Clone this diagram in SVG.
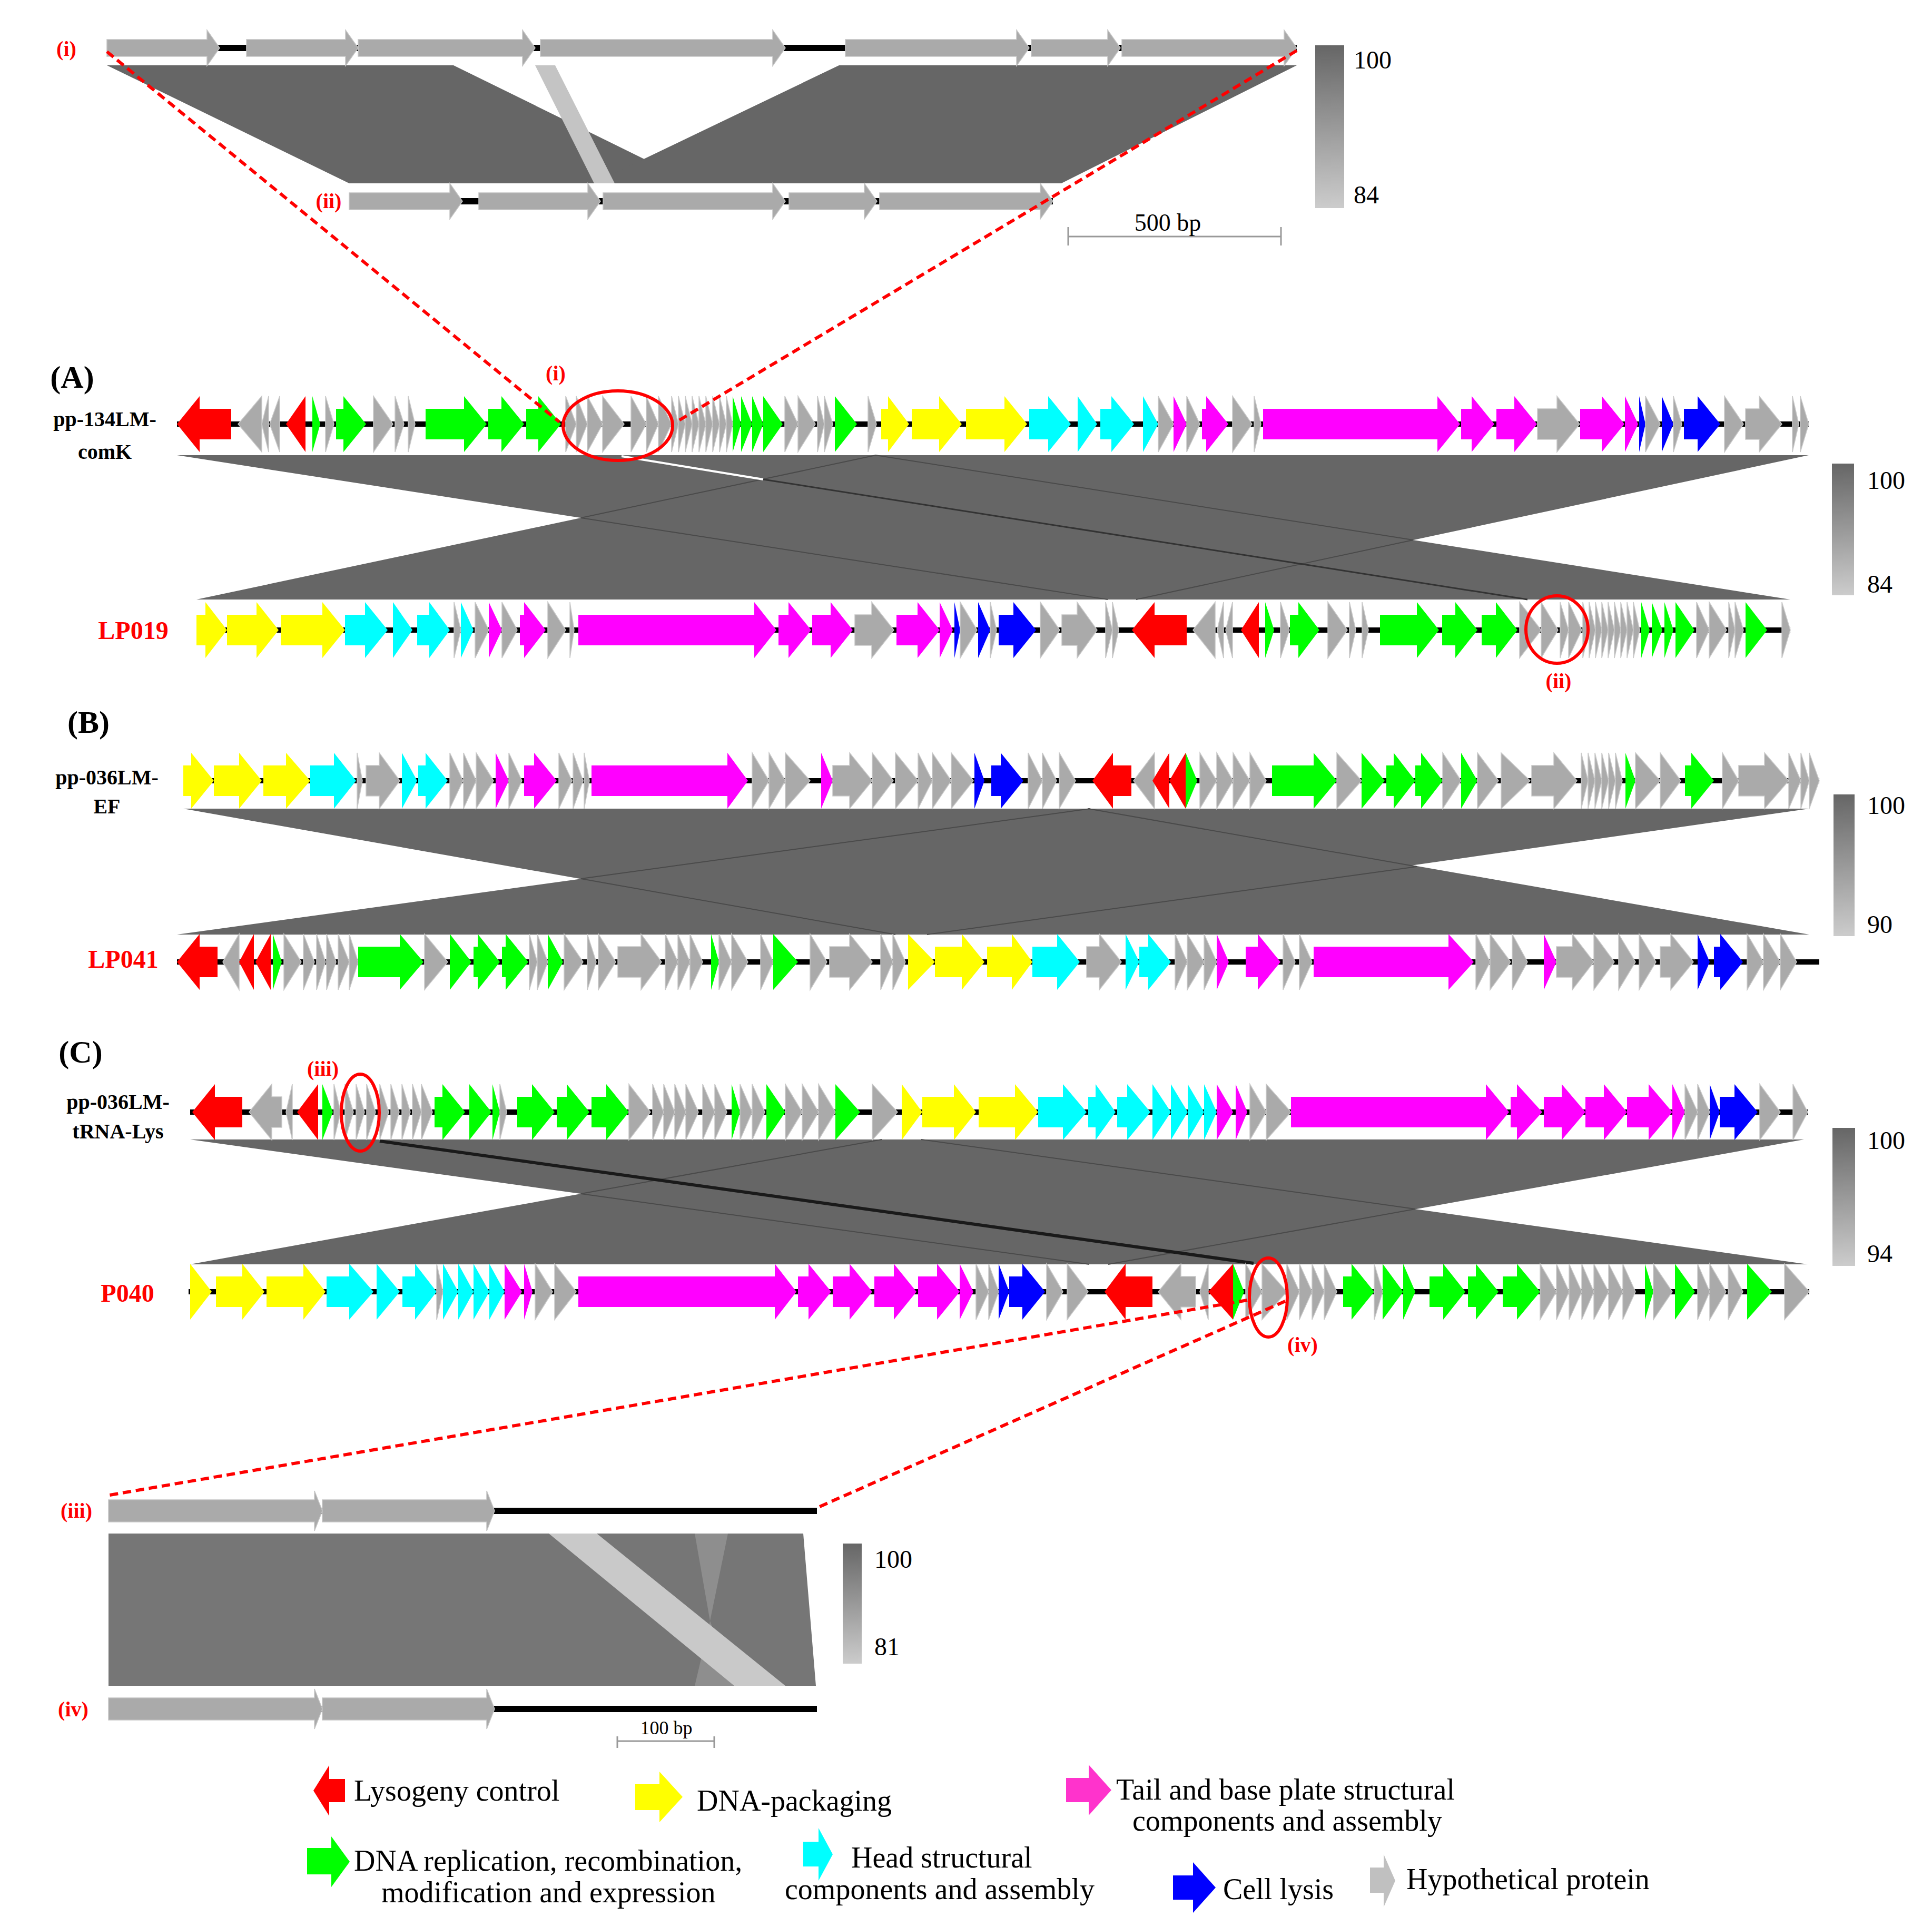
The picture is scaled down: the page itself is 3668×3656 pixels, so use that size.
<svg xmlns="http://www.w3.org/2000/svg" width="3668" height="3656" viewBox="0 0 3668 3656">
<style>
.r{fill:#ff0000}.y{fill:#ffff00}.g{fill:#00ff00}.c{fill:#00ffff}.m{fill:#ff00ff}.b{fill:#0000ff}
.h{fill:#aaaaaa;stroke:#c8c8c8;stroke-width:1.5}
.tg{fill:#aaaaaa;stroke:#c4c4c4;stroke-width:1.5}
.bb{fill:#000000}
.band{fill:#666666}
.edge{stroke:#4a4a4a;stroke-width:2;fill:none}
.dash{stroke:#ff0000;stroke-width:6;stroke-dasharray:16 9;fill:none}
.circ{stroke:#ff0000;stroke-width:6;fill:none}
text{font-family:"Liberation Serif","Times New Roman",serif}
.lab{font-size:40px;font-weight:bold;fill:#000;text-anchor:middle}
.rl{font-size:48px;font-weight:bold;fill:#ff0000;text-anchor:middle}
.rn{font-size:40px;font-weight:bold;fill:#ff0000;text-anchor:middle}
.pn{font-size:60px;font-weight:bold;fill:#000;text-anchor:middle}
.num{font-size:48px;fill:#000}
.leg{font-size:56px;fill:#000}
</style>
<defs>
<linearGradient id="sg" x1="0" y1="0" x2="0" y2="1"><stop offset="0" stop-color="#666666"/><stop offset="1" stop-color="#cccccc"/></linearGradient>
</defs>
<rect width="3668" height="3656" fill="#ffffff"/>

<!-- comparison bands (connectors) -->
<g id="connectors">
<polygon class="band" points="203,124 861,124 1317,348 663,348"/>
<polygon class="band" points="1593,124 2462,124 2015,348 1126,348"/>
<polygon fill="#c4c4c4" points="1016,124 1054,124 1167,348 1128,348"/>

<polygon class="band" points="336,864 1662,864 3399,1138 2103,1138"/>
<polygon class="band" points="1663,864 3434,864 2157,1138 373,1138"/>
<line class="edge" x1="1103" y1="983" x2="2103" y2="1138"/>
<line class="edge" x1="1663" y1="864" x2="1103" y2="983"/>
<line class="edge" x1="1662" y1="864" x2="2683" y2="1025"/>
<line class="edge" x1="2683" y1="1025" x2="2157" y2="1138"/>
<line stroke="#ffffff" stroke-width="4" x1="1180" y1="866" x2="1449" y2="910"/>
<line stroke="#333333" stroke-width="3" x1="1449" y1="910" x2="2900" y2="1138"/>

<polygon class="band" points="348,1535 2066,1535 3435,1774 1700,1774"/>
<polygon class="band" points="2070,1535 3435,1535 1760,1774 336,1774"/>
<line class="edge" x1="1103" y1="1668" x2="1700" y2="1774"/>
<line class="edge" x1="2070" y1="1535" x2="1103" y2="1668"/>
<line class="edge" x1="2066" y1="1535" x2="2690" y2="1645"/>
<line class="edge" x1="2690" y1="1645" x2="1760" y2="1774"/>

<polygon class="band" points="361,2163 1749,2163 3432,2400 2068,2400"/>
<polygon class="band" points="1674,2163 3425,2163 2104,2400 361,2400"/>
<line class="edge" x1="1103" y1="2266" x2="2068" y2="2400"/>
<line class="edge" x1="1674" y1="2163" x2="1103" y2="2266"/>
<line class="edge" x1="1749" y1="2163" x2="2687" y2="2295"/>
<line class="edge" x1="2687" y1="2295" x2="2104" y2="2400"/>
<line stroke="#1a1a1a" stroke-width="6" x1="721" y1="2166" x2="2380" y2="2398"/>

<polygon fill="#767676" points="206,2911 1525,2911 1549,3200 206,3200"/>
<polygon fill="#8e8e8e" points="1319,2911 1382,2911 1348,3077"/>
<polygon fill="#8e8e8e" points="1348,3077 1394,3200 1319,3200"/>
<polygon fill="#c9c9c9" points="1042,2911 1133,2911 1491,3200 1394,3200"/>
</g>

<!-- top zoom panel tracks -->
<g id="track-i" transform="translate(0,91)">
<rect class="bb" x="203" y="-6" width="2259" height="12"/>
<polygon class="tg" points="203,-16 393,-16 393,-34 417,0 393,34 393,16 203,16"/>
<polygon class="tg" points="468,-16 656,-16 656,-34 680,0 656,34 656,16 468,16"/>
<polygon class="tg" points="680,-16 992,-16 992,-34 1016,0 992,34 992,16 680,16"/>
<polygon class="tg" points="1026,-16 1467,-16 1467,-34 1491,0 1467,34 1467,16 1026,16"/>
<polygon class="tg" points="1605,-16 1930,-16 1930,-34 1954,0 1930,34 1930,16 1605,16"/>
<polygon class="tg" points="1958,-16 2103,-16 2103,-34 2127,0 2103,34 2103,16 1958,16"/>
<polygon class="tg" points="2130,-16 2438,-16 2438,-34 2462,0 2438,34 2438,16 2130,16"/>
</g>
<g id="track-ii" transform="translate(0,382)">
<rect class="bb" x="663" y="-6" width="1336" height="12"/>
<polygon class="tg" points="663,-16 854,-16 854,-34 878,0 854,34 854,16 663,16"/>
<polygon class="tg" points="909,-16 1116,-16 1116,-34 1140,0 1116,34 1116,16 909,16"/>
<polygon class="tg" points="1145,-16 1467,-16 1467,-34 1491,0 1467,34 1467,16 1145,16"/>
<polygon class="tg" points="1498,-16 1641,-16 1641,-34 1665,0 1641,34 1641,16 1498,16"/>
<polygon class="tg" points="1670,-16 1975,-16 1975,-34 1999,0 1975,34 1975,16 1670,16"/>
</g>

<!-- Panel A top: pp-134LM-comK -->
<g id="track-pp134" transform="translate(0,805)">
<rect class="bb" x="336" y="-5" width="3098" height="10"/>
<polygon class="r" points="439,-29 379,-29 379,-53 336,0 379,53 379,29 439,29"/>
<polygon class="h" points="497,-53 452,0 497,53"/>
<polygon class="h" points="510,-53 497,0 510,53"/>
<polygon class="h" points="531,-53 512,0 531,53"/>
<polygon class="r" points="580,-53 543,0 580,53"/>
<polygon class="g" points="593,-53 608,0 593,53"/>
<polygon class="h" points="618,-53 634,0 618,53"/>
<polygon class="g" points="638,-29 652,-29 652,-53 695,0 652,53 652,29 638,29"/>
<polygon class="h" points="709,-53 746,0 709,53"/>
<polygon class="h" points="750,-53 767,0 750,53"/>
<polygon class="h" points="775,-53 788,0 775,53"/>
<polygon class="g" points="808,-29 881,-29 881,-53 924,0 881,53 881,29 808,29"/>
<polygon class="g" points="927,-29 952,-29 952,-53 995,0 952,53 952,29 927,29"/>
<polygon class="g" points="999,-29 1022,-29 1022,-53 1065,0 1022,53 1022,29 999,29"/>
<polygon class="h" points="1074,-53 1094,0 1074,53"/>
<polygon class="h" points="1094,-53 1115,0 1094,53"/>
<polygon class="h" points="1115,-53 1144,0 1115,53"/>
<polygon class="h" points="1144,-53 1185,0 1144,53"/>
<polygon class="h" points="1198,-53 1227,0 1198,53"/>
<polygon class="h" points="1227,-53 1250,0 1227,53"/>
<polygon class="h" points="1250,-53 1275,0 1250,53"/>
<polygon class="h" points="1275,-53 1288,0 1275,53"/>
<polygon class="h" points="1288,-53 1301,0 1288,53"/>
<polygon class="h" points="1301,-53 1314,0 1301,53"/>
<polygon class="h" points="1314,-53 1327,0 1314,53"/>
<polygon class="h" points="1327,-53 1340,0 1327,53"/>
<polygon class="h" points="1340,-53 1353,0 1340,53"/>
<polygon class="h" points="1353,-53 1366,0 1353,53"/>
<polygon class="h" points="1366,-53 1379,0 1366,53"/>
<polygon class="h" points="1379,-53 1391,0 1379,53"/>
<polygon class="g" points="1391,-53 1407,0 1391,53"/>
<polygon class="g" points="1407,-53 1428,0 1407,53"/>
<polygon class="g" points="1428,-53 1449,0 1428,53"/>
<polygon class="g" points="1449,-53 1486,0 1449,53"/>
<polygon class="h" points="1490,-53 1515,0 1490,53"/>
<polygon class="h" points="1515,-53 1548,0 1515,53"/>
<polygon class="h" points="1552,-53 1565,0 1552,53"/>
<polygon class="h" points="1565,-53 1581,0 1565,53"/>
<polygon class="g" points="1585,-53 1627,0 1585,53"/>
<polygon class="h" points="1648,-53 1664,0 1648,53"/>
<polygon class="y" points="1673,-29 1686,-29 1686,-53 1726,0 1686,53 1686,29 1673,29"/>
<polygon class="y" points="1731,-29 1783,-29 1783,-53 1826,0 1783,53 1783,29 1731,29"/>
<polygon class="y" points="1834,-29 1907,-29 1907,-53 1950,0 1907,53 1907,29 1834,29"/>
<polygon class="c" points="1954,-29 1990,-29 1990,-53 2033,0 1990,53 1990,29 1954,29"/>
<polygon class="c" points="2046,-53 2083,0 2046,53"/>
<polygon class="c" points="2089,-29 2110,-29 2110,-53 2153,0 2110,53 2110,29 2089,29"/>
<polygon class="c" points="2170,-53 2199,0 2170,53"/>
<polygon class="h" points="2199,-53 2228,0 2199,53"/>
<polygon class="m" points="2228,-53 2253,0 2228,53"/>
<polygon class="h" points="2253,-53 2278,0 2253,53"/>
<polygon class="m" points="2282,-29 2290,-29 2290,-53 2332,0 2290,53 2290,29 2282,29"/>
<polygon class="h" points="2340,-53 2377,0 2340,53"/>
<polygon class="h" points="2381,-53 2394,0 2381,53"/>
<polygon class="m" points="2398,-29 2729,-29 2729,-53 2772,0 2729,53 2729,29 2398,29"/>
<polygon class="m" points="2774,-29 2794,-29 2794,-53 2837,0 2794,53 2794,29 2774,29"/>
<polygon class="m" points="2841,-29 2875,-29 2875,-53 2918,0 2875,53 2875,29 2841,29"/>
<polygon class="h" points="2919,-29 2956,-29 2956,-53 2999,0 2956,53 2956,29 2919,29"/>
<polygon class="m" points="3000,-29 3041,-29 3041,-53 3084,0 3041,53 3041,29 3000,29"/>
<polygon class="m" points="3085,-53 3110,0 3085,53"/>
<polygon class="b" points="3112,-53 3124,0 3112,53"/>
<polygon class="h" points="3124,-53 3152,0 3124,53"/>
<polygon class="b" points="3155,-53 3177,0 3155,53"/>
<polygon class="h" points="3177,-53 3193,0 3177,53"/>
<polygon class="b" points="3197,-29 3223,-29 3223,-53 3266,0 3223,53 3223,29 3197,29"/>
<polygon class="h" points="3274,-53 3310,0 3274,53"/>
<polygon class="h" points="3314,-29 3340,-29 3340,-53 3383,0 3340,53 3340,29 3314,29"/>
<polygon class="h" points="3403,-53 3415,0 3403,53"/>
<polygon class="h" points="3418,-53 3434,0 3418,53"/>
</g>

<!-- Panel A bottom: LP019 -->
<g id="track-LP019" transform="translate(0,1196)">
<rect class="bb" x="373" y="-5" width="3026" height="10"/>
<polygon class="y" points="373,-29 390,-29 390,-53 431,0 390,53 390,29 373,29"/>
<polygon class="y" points="431,-29 487,-29 487,-53 529,0 487,53 487,29 431,29"/>
<polygon class="y" points="533,-29 612,-29 612,-53 655,0 612,53 612,29 533,29"/>
<polygon class="c" points="655,-29 693,-29 693,-53 736,0 693,53 693,29 655,29"/>
<polygon class="c" points="746,-53 783,0 746,53"/>
<polygon class="c" points="792,-29 815,-29 815,-53 854,0 815,53 815,29 792,29"/>
<polygon class="h" points="862,-53 875,0 862,53"/>
<polygon class="c" points="875,-53 899,0 875,53"/>
<polygon class="h" points="902,-53 928,0 902,53"/>
<polygon class="m" points="928,-53 953,0 928,53"/>
<polygon class="h" points="953,-53 982,0 953,53"/>
<polygon class="m" points="987,-29 995,-29 995,-53 1036,0 995,53 995,29 987,29"/>
<polygon class="h" points="1040,-53 1074,0 1040,53"/>
<polygon class="h" points="1082,-53 1090,0 1082,53"/>
<polygon class="m" points="1098,-29 1432,-29 1432,-53 1474,0 1432,53 1432,29 1098,29"/>
<polygon class="m" points="1478,-29 1497,-29 1497,-53 1540,0 1497,53 1497,29 1478,29"/>
<polygon class="m" points="1542,-29 1577,-29 1577,-53 1619,0 1577,53 1577,29 1542,29"/>
<polygon class="h" points="1623,-29 1655,-29 1655,-53 1697,0 1655,53 1655,29 1623,29"/>
<polygon class="m" points="1702,-29 1742,-29 1742,-53 1784,0 1742,53 1742,29 1702,29"/>
<polygon class="m" points="1784,-53 1809,0 1784,53"/>
<polygon class="b" points="1812,-53 1823,0 1812,53"/>
<polygon class="h" points="1823,-53 1855,0 1823,53"/>
<polygon class="b" points="1857,-53 1880,0 1857,53"/>
<polygon class="h" points="1880,-53 1892,0 1880,53"/>
<polygon class="b" points="1896,-29 1924,-29 1924,-53 1967,0 1924,53 1924,29 1896,29"/>
<polygon class="h" points="1975,-53 2012,0 1975,53"/>
<polygon class="h" points="2016,-29 2045,-29 2045,-53 2083,0 2045,53 2045,29 2016,29"/>
<polygon class="h" points="2099,-53 2112,0 2099,53"/>
<polygon class="h" points="2112,-53 2124,0 2112,53"/>
<polygon class="r" points="2253,-29 2192,-29 2192,-53 2149,0 2192,53 2192,29 2253,29"/>
<polygon class="h" points="2307,-53 2265,0 2307,53"/>
<polygon class="h" points="2323,-53 2311,0 2323,53"/>
<polygon class="h" points="2340,-53 2327,0 2340,53"/>
<polygon class="r" points="2390,-53 2356,0 2390,53"/>
<polygon class="g" points="2402,-53 2419,0 2402,53"/>
<polygon class="h" points="2431,-53 2448,0 2431,53"/>
<polygon class="g" points="2449,-29 2465,-29 2465,-53 2505,0 2465,53 2465,29 2449,29"/>
<polygon class="h" points="2521,-53 2558,0 2521,53"/>
<polygon class="h" points="2562,-53 2574,0 2562,53"/>
<polygon class="h" points="2586,-53 2598,0 2586,53"/>
<polygon class="g" points="2620,-29 2690,-29 2690,-53 2732,0 2690,53 2690,29 2620,29"/>
<polygon class="g" points="2738,-29 2763,-29 2763,-53 2805,0 2763,53 2763,29 2738,29"/>
<polygon class="g" points="2813,-29 2840,-29 2840,-53 2881,0 2840,53 2840,29 2813,29"/>
<polygon class="h" points="2885,-53 2926,0 2885,53"/>
<polygon class="h" points="2926,-53 2958,0 2926,53"/>
<polygon class="h" points="2962,-53 2978,0 2962,53"/>
<polygon class="h" points="2978,-53 3003,0 2978,53"/>
<polygon class="h" points="3005,-53 3017,0 3005,53"/>
<polygon class="h" points="3017,-53 3029,0 3017,53"/>
<polygon class="h" points="3029,-53 3041,0 3029,53"/>
<polygon class="h" points="3041,-53 3053,0 3041,53"/>
<polygon class="h" points="3053,-53 3065,0 3053,53"/>
<polygon class="h" points="3065,-53 3077,0 3065,53"/>
<polygon class="h" points="3077,-53 3089,0 3077,53"/>
<polygon class="h" points="3089,-53 3101,0 3089,53"/>
<polygon class="h" points="3101,-53 3113,0 3101,53"/>
<polygon class="g" points="3116,-53 3132,0 3116,53"/>
<polygon class="g" points="3136,-53 3156,0 3136,53"/>
<polygon class="g" points="3160,-53 3177,0 3160,53"/>
<polygon class="g" points="3181,-53 3217,0 3181,53"/>
<polygon class="h" points="3221,-53 3245,0 3221,53"/>
<polygon class="h" points="3245,-53 3278,0 3245,53"/>
<polygon class="h" points="3282,-53 3294,0 3282,53"/>
<polygon class="h" points="3294,-53 3310,0 3294,53"/>
<polygon class="g" points="3314,-53 3355,0 3314,53"/>
<polygon class="h" points="3383,-53 3399,0 3383,53"/>
</g>

<!-- Panel B top: pp-036LM-EF -->
<g id="track-pp036EF" transform="translate(0,1482)">
<rect class="bb" x="348" y="-5" width="3106" height="10"/>
<polygon class="y" points="348,-29 363,-29 363,-53 406,0 363,53 363,29 348,29"/>
<polygon class="y" points="406,-29 454,-29 454,-53 497,0 454,53 454,29 406,29"/>
<polygon class="y" points="500,-29 543,-29 543,-53 589,0 543,53 543,29 500,29"/>
<polygon class="c" points="589,-29 634,-29 634,-53 676,0 634,53 634,29 589,29"/>
<polygon class="h" points="678,-53 688,0 678,53"/>
<polygon class="h" points="695,-29 720,-29 720,-53 759,0 720,53 720,29 695,29"/>
<polygon class="c" points="763,-53 792,0 763,53"/>
<polygon class="c" points="794,-29 808,-29 808,-53 850,0 808,53 808,29 794,29"/>
<polygon class="h" points="854,-53 879,0 854,53"/>
<polygon class="h" points="880,-53 904,0 880,53"/>
<polygon class="h" points="904,-53 937,0 904,53"/>
<polygon class="m" points="941,-53 966,0 941,53"/>
<polygon class="h" points="966,-53 991,0 966,53"/>
<polygon class="m" points="995,-29 1014,-29 1014,-53 1057,0 1014,53 1014,29 995,29"/>
<polygon class="h" points="1061,-53 1086,0 1061,53"/>
<polygon class="h" points="1088,-53 1107,0 1088,53"/>
<polygon class="h" points="1109,-53 1119,0 1109,53"/>
<polygon class="m" points="1123,-29 1381,-29 1381,-53 1420,0 1381,53 1381,29 1123,29"/>
<polygon class="h" points="1428,-53 1460,0 1428,53"/>
<polygon class="h" points="1460,-53 1491,0 1460,53"/>
<polygon class="h" points="1491,-53 1538,0 1491,53"/>
<polygon class="m" points="1559,-53 1581,0 1559,53"/>
<polygon class="h" points="1581,-29 1613,-29 1613,-53 1656,0 1613,53 1613,29 1581,29"/>
<polygon class="h" points="1656,-53 1696,0 1656,53"/>
<polygon class="h" points="1700,-53 1743,0 1700,53"/>
<polygon class="h" points="1743,-53 1770,0 1743,53"/>
<polygon class="h" points="1770,-53 1806,0 1770,53"/>
<polygon class="h" points="1806,-53 1848,0 1806,53"/>
<polygon class="b" points="1850,-53 1869,0 1850,53"/>
<polygon class="b" points="1882,-29 1900,-29 1900,-53 1943,0 1900,53 1900,29 1882,29"/>
<polygon class="h" points="1952,-53 1979,0 1952,53"/>
<polygon class="h" points="1979,-53 2006,0 1979,53"/>
<polygon class="h" points="2011,-53 2042,0 2011,53"/>
<polygon class="r" points="2148,-29 2113,-29 2113,-53 2074,0 2113,53 2113,29 2148,29"/>
<polygon class="h" points="2192,-53 2152,0 2192,53"/>
<polygon class="r" points="2220,-53 2188,0 2220,53"/>
<polygon class="r" points="2251,-53 2220,0 2251,53"/>
<polygon class="g" points="2251,-53 2273,0 2251,53"/>
<polygon class="h" points="2278,-53 2310,0 2278,53"/>
<polygon class="h" points="2310,-53 2341,0 2310,53"/>
<polygon class="h" points="2341,-53 2373,0 2341,53"/>
<polygon class="h" points="2373,-53 2404,0 2373,53"/>
<polygon class="g" points="2415,-29 2494,-29 2494,-53 2538,0 2494,53 2494,29 2415,29"/>
<polygon class="h" points="2538,-53 2585,0 2538,53"/>
<polygon class="g" points="2585,-53 2629,0 2585,53"/>
<polygon class="g" points="2632,-29 2646,-29 2646,-53 2687,0 2646,53 2646,29 2632,29"/>
<polygon class="g" points="2687,-29 2698,-29 2698,-53 2739,0 2698,53 2698,29 2687,29"/>
<polygon class="h" points="2739,-53 2774,0 2739,53"/>
<polygon class="g" points="2774,-53 2805,0 2774,53"/>
<polygon class="h" points="2805,-53 2845,0 2805,53"/>
<polygon class="h" points="2850,-53 2905,0 2850,53"/>
<polygon class="h" points="2908,-29 2950,-29 2950,-53 2994,0 2950,53 2950,29 2908,29"/>
<polygon class="h" points="3002,-53 3015,0 3002,53"/>
<polygon class="h" points="3015,-53 3028,0 3015,53"/>
<polygon class="h" points="3028,-53 3041,0 3028,53"/>
<polygon class="h" points="3041,-53 3054,0 3041,53"/>
<polygon class="h" points="3054,-53 3067,0 3054,53"/>
<polygon class="h" points="3067,-53 3080,0 3067,53"/>
<polygon class="g" points="3086,-53 3105,0 3086,53"/>
<polygon class="h" points="3105,-53 3152,0 3105,53"/>
<polygon class="h" points="3152,-53 3191,0 3152,53"/>
<polygon class="g" points="3199,-29 3211,-29 3211,-53 3254,0 3211,53 3211,29 3199,29"/>
<polygon class="h" points="3270,-53 3301,0 3270,53"/>
<polygon class="h" points="3301,-29 3350,-29 3350,-53 3396,0 3350,53 3350,29 3301,29"/>
<polygon class="h" points="3396,-53 3419,0 3396,53"/>
<polygon class="h" points="3419,-53 3435,0 3419,53"/>
<polygon class="h" points="3435,-53 3454,0 3435,53"/>
</g>

<!-- Panel B bottom: LP041 -->
<g id="track-LP041" transform="translate(0,1826)">
<rect class="bb" x="336" y="-5" width="3118" height="10"/>
<polygon class="r" points="413,-29 379,-29 379,-53 336,0 379,53 379,29 413,29"/>
<polygon class="h" points="454,-53 423,0 454,53"/>
<polygon class="r" points="482,-53 454,0 482,53"/>
<polygon class="r" points="514,-53 485,0 514,53"/>
<polygon class="g" points="518,-53 535,0 518,53"/>
<polygon class="h" points="539,-53 572,0 539,53"/>
<polygon class="h" points="576,-53 597,0 576,53"/>
<polygon class="h" points="601,-53 618,0 601,53"/>
<polygon class="h" points="620,-53 638,0 620,53"/>
<polygon class="h" points="642,-53 663,0 642,53"/>
<polygon class="h" points="663,-53 680,0 663,53"/>
<polygon class="g" points="680,-29 759,-29 759,-53 804,0 759,53 759,29 680,29"/>
<polygon class="h" points="806,-53 850,0 806,53"/>
<polygon class="g" points="854,-53 895,0 854,53"/>
<polygon class="g" points="899,-29 907,-29 907,-53 949,0 907,53 907,29 899,29"/>
<polygon class="g" points="953,-29 960,-29 960,-53 1003,0 960,53 960,29 953,29"/>
<polygon class="h" points="1005,-53 1020,0 1005,53"/>
<polygon class="h" points="1020,-53 1040,0 1020,53"/>
<polygon class="g" points="1040,-53 1069,0 1040,53"/>
<polygon class="h" points="1071,-53 1107,0 1071,53"/>
<polygon class="h" points="1115,-53 1132,0 1115,53"/>
<polygon class="h" points="1136,-53 1169,0 1136,53"/>
<polygon class="h" points="1173,-29 1217,-29 1217,-53 1256,0 1217,53 1217,29 1173,29"/>
<polygon class="h" points="1263,-53 1287,0 1263,53"/>
<polygon class="h" points="1287,-53 1310,0 1287,53"/>
<polygon class="h" points="1310,-53 1334,0 1310,53"/>
<polygon class="g" points="1350,-53 1365,0 1350,53"/>
<polygon class="h" points="1365,-53 1389,0 1365,53"/>
<polygon class="h" points="1389,-53 1420,0 1389,53"/>
<polygon class="h" points="1444,-53 1468,0 1444,53"/>
<polygon class="g" points="1468,-53 1515,0 1468,53"/>
<polygon class="h" points="1538,-53 1570,0 1538,53"/>
<polygon class="h" points="1575,-29 1613,-29 1613,-53 1656,0 1613,53 1613,29 1575,29"/>
<polygon class="h" points="1672,-53 1695,0 1672,53"/>
<polygon class="h" points="1695,-53 1719,0 1695,53"/>
<polygon class="y" points="1724,-53 1775,0 1724,53"/>
<polygon class="y" points="1775,-29 1826,-29 1826,-53 1869,0 1826,53 1826,29 1775,29"/>
<polygon class="y" points="1874,-29 1921,-29 1921,-53 1960,0 1921,53 1921,29 1874,29"/>
<polygon class="c" points="1960,-29 2007,-29 2007,-53 2050,0 2007,53 2007,29 1960,29"/>
<polygon class="h" points="2063,-29 2087,-29 2087,-53 2129,0 2087,53 2087,29 2063,29"/>
<polygon class="c" points="2137,-53 2163,0 2137,53"/>
<polygon class="c" points="2163,-29 2180,-29 2180,-53 2223,0 2180,53 2180,29 2163,29"/>
<polygon class="h" points="2231,-53 2254,0 2231,53"/>
<polygon class="h" points="2254,-53 2286,0 2254,53"/>
<polygon class="h" points="2286,-53 2310,0 2286,53"/>
<polygon class="m" points="2310,-53 2333,0 2310,53"/>
<polygon class="m" points="2365,-29 2388,-29 2388,-53 2431,0 2388,53 2388,29 2365,29"/>
<polygon class="h" points="2436,-53 2459,0 2436,53"/>
<polygon class="h" points="2467,-53 2491,0 2467,53"/>
<polygon class="m" points="2494,-29 2750,-29 2750,-53 2798,0 2750,53 2750,29 2494,29"/>
<polygon class="h" points="2802,-53 2829,0 2802,53"/>
<polygon class="h" points="2829,-53 2868,0 2829,53"/>
<polygon class="h" points="2871,-53 2900,0 2871,53"/>
<polygon class="m" points="2931,-53 2955,0 2931,53"/>
<polygon class="h" points="2955,-29 2985,-29 2985,-53 3026,0 2985,53 2985,29 2955,29"/>
<polygon class="h" points="3026,-53 3065,0 3026,53"/>
<polygon class="h" points="3073,-53 3105,0 3073,53"/>
<polygon class="h" points="3112,-53 3144,0 3112,53"/>
<polygon class="h" points="3152,-29 3172,-29 3172,-53 3215,0 3172,53 3172,29 3152,29"/>
<polygon class="b" points="3223,-53 3246,0 3223,53"/>
<polygon class="b" points="3254,-29 3266,-29 3266,-53 3309,0 3266,53 3266,29 3254,29"/>
<polygon class="h" points="3317,-53 3348,0 3317,53"/>
<polygon class="h" points="3348,-53 3380,0 3348,53"/>
<polygon class="h" points="3380,-53 3411,0 3380,53"/>
</g>

<!-- Panel C top: pp-036LM-tRNA-Lys -->
<g id="track-pp036tRNA" transform="translate(0,2111)">
<rect class="bb" x="361" y="-5" width="3071" height="10"/>
<polygon class="r" points="460,-29 408,-29 408,-53 365,0 408,53 408,29 460,29"/>
<polygon class="h" points="535,-29 516,-29 516,-53 473,0 516,53 516,29 535,29"/>
<polygon class="h" points="555,-53 543,0 555,53"/>
<polygon class="r" points="604,-53 564,0 604,53"/>
<polygon class="g" points="612,-53 632,0 612,53"/>
<polygon class="h" points="634,-53 647,0 634,53"/>
<polygon class="h" points="655,-53 671,0 655,53"/>
<polygon class="h" points="676,-53 692,0 676,53"/>
<polygon class="h" points="696,-53 713,0 696,53"/>
<polygon class="h" points="721,-53 738,0 721,53"/>
<polygon class="h" points="742,-53 758,0 742,53"/>
<polygon class="h" points="763,-53 779,0 763,53"/>
<polygon class="h" points="783,-53 800,0 783,53"/>
<polygon class="h" points="800,-53 821,0 800,53"/>
<polygon class="g" points="825,-29 840,-29 840,-53 883,0 840,53 840,29 825,29"/>
<polygon class="g" points="891,-53 933,0 891,53"/>
<polygon class="g" points="935,-53 949,0 935,53"/>
<polygon class="h" points="949,-53 962,0 949,53"/>
<polygon class="g" points="982,-29 1010,-29 1010,-53 1053,0 1010,53 1010,29 982,29"/>
<polygon class="g" points="1057,-29 1076,-29 1076,-53 1119,0 1076,53 1076,29 1057,29"/>
<polygon class="g" points="1123,-29 1151,-29 1151,-53 1194,0 1151,53 1151,29 1123,29"/>
<polygon class="h" points="1194,-53 1235,0 1194,53"/>
<polygon class="h" points="1239,-53 1260,0 1239,53"/>
<polygon class="h" points="1260,-53 1281,0 1260,53"/>
<polygon class="h" points="1281,-53 1302,0 1281,53"/>
<polygon class="h" points="1302,-53 1326,0 1302,53"/>
<polygon class="h" points="1334,-53 1357,0 1334,53"/>
<polygon class="h" points="1357,-53 1380,0 1357,53"/>
<polygon class="g" points="1389,-53 1405,0 1389,53"/>
<polygon class="h" points="1405,-53 1428,0 1405,53"/>
<polygon class="h" points="1428,-53 1452,0 1428,53"/>
<polygon class="g" points="1455,-53 1491,0 1455,53"/>
<polygon class="h" points="1491,-53 1523,0 1491,53"/>
<polygon class="h" points="1523,-53 1554,0 1523,53"/>
<polygon class="h" points="1554,-53 1586,0 1554,53"/>
<polygon class="g" points="1586,-53 1633,0 1586,53"/>
<polygon class="h" points="1656,-53 1704,0 1656,53"/>
<polygon class="y" points="1712,-53 1751,0 1712,53"/>
<polygon class="y" points="1751,-29 1811,-29 1811,-53 1853,0 1811,53 1811,29 1751,29"/>
<polygon class="y" points="1858,-29 1927,-29 1927,-53 1971,0 1927,53 1927,29 1858,29"/>
<polygon class="c" points="1971,-29 2018,-29 2018,-53 2063,0 2018,53 2018,29 1971,29"/>
<polygon class="c" points="2066,-29 2080,-29 2080,-53 2118,0 2080,53 2080,29 2066,29"/>
<polygon class="c" points="2121,-29 2140,-29 2140,-53 2184,0 2140,53 2140,29 2121,29"/>
<polygon class="c" points="2188,-53 2223,0 2188,53"/>
<polygon class="c" points="2223,-53 2255,0 2223,53"/>
<polygon class="c" points="2255,-53 2286,0 2255,53"/>
<polygon class="c" points="2286,-53 2310,0 2286,53"/>
<polygon class="m" points="2310,-53 2341,0 2310,53"/>
<polygon class="m" points="2346,-53 2368,0 2346,53"/>
<polygon class="h" points="2373,-53 2404,0 2373,53"/>
<polygon class="h" points="2404,-53 2451,0 2404,53"/>
<polygon class="m" points="2451,-29 2821,-29 2821,-53 2865,0 2821,53 2821,29 2451,29"/>
<polygon class="m" points="2868,-29 2880,-29 2880,-53 2928,0 2880,53 2880,29 2868,29"/>
<polygon class="m" points="2931,-29 2965,-29 2965,-53 3010,0 2965,53 2965,29 2931,29"/>
<polygon class="m" points="3010,-29 3045,-29 3045,-53 3089,0 3045,53 3045,29 3010,29"/>
<polygon class="m" points="3089,-29 3130,-29 3130,-53 3175,0 3130,53 3130,29 3089,29"/>
<polygon class="m" points="3175,-53 3199,0 3175,53"/>
<polygon class="h" points="3199,-53 3223,0 3199,53"/>
<polygon class="h" points="3223,-53 3246,0 3223,53"/>
<polygon class="b" points="3246,-53 3265,0 3246,53"/>
<polygon class="b" points="3265,-29 3293,-29 3293,-53 3337,0 3293,53 3293,29 3265,29"/>
<polygon class="h" points="3341,-53 3380,0 3341,53"/>
<polygon class="h" points="3404,-53 3432,0 3404,53"/>
</g>

<!-- Panel C bottom: P040 -->
<g id="track-P040" transform="translate(0,2452)">
<rect class="bb" x="358" y="-5" width="3077" height="10"/>
<polygon class="y" points="361,-53 402,0 361,53"/>
<polygon class="y" points="410,-29 460,-29 460,-53 502,0 460,53 460,29 410,29"/>
<polygon class="y" points="506,-29 576,-29 576,-53 618,0 576,53 576,29 506,29"/>
<polygon class="c" points="620,-29 663,-29 663,-53 709,0 663,53 663,29 620,29"/>
<polygon class="c" points="715,-53 759,0 715,53"/>
<polygon class="c" points="764,-29 788,-29 788,-53 829,0 788,53 788,29 764,29"/>
<polygon class="h" points="829,-53 841,0 829,53"/>
<polygon class="c" points="841,-53 870,0 841,53"/>
<polygon class="c" points="870,-53 899,0 870,53"/>
<polygon class="c" points="899,-53 929,0 899,53"/>
<polygon class="c" points="929,-53 958,0 929,53"/>
<polygon class="m" points="958,-53 991,0 958,53"/>
<polygon class="m" points="995,-53 1011,0 995,53"/>
<polygon class="h" points="1016,-53 1049,0 1016,53"/>
<polygon class="h" points="1053,-53 1094,0 1053,53"/>
<polygon class="m" points="1098,-29 1471,-29 1471,-53 1512,0 1471,53 1471,29 1098,29"/>
<polygon class="m" points="1515,-29 1535,-29 1535,-53 1578,0 1535,53 1535,29 1515,29"/>
<polygon class="m" points="1581,-29 1613,-29 1613,-53 1656,0 1613,53 1613,29 1581,29"/>
<polygon class="m" points="1660,-29 1697,-29 1697,-53 1740,0 1697,53 1697,29 1660,29"/>
<polygon class="m" points="1743,-29 1779,-29 1779,-53 1822,0 1779,53 1779,29 1743,29"/>
<polygon class="m" points="1822,-53 1848,0 1822,53"/>
<polygon class="h" points="1853,-53 1877,0 1853,53"/>
<polygon class="h" points="1877,-53 1896,0 1877,53"/>
<polygon class="b" points="1896,-53 1916,0 1896,53"/>
<polygon class="b" points="1916,-29 1941,-29 1941,-53 1984,0 1941,53 1941,29 1916,29"/>
<polygon class="h" points="1987,-53 2018,0 1987,53"/>
<polygon class="h" points="2026,-53 2066,0 2026,53"/>
<polygon class="r" points="2188,-29 2137,-29 2137,-53 2097,0 2137,53 2137,29 2188,29"/>
<polygon class="h" points="2270,-29 2242,-29 2242,-53 2199,0 2242,53 2242,29 2270,29"/>
<polygon class="h" points="2294,-53 2278,0 2294,53"/>
<polygon class="r" points="2341,-53 2294,0 2341,53"/>
<polygon class="g" points="2341,-53 2362,0 2341,53"/>
<polygon class="h" points="2365,-53 2396,0 2365,53"/>
<polygon class="h" points="2396,-53 2443,0 2396,53"/>
<polygon class="h" points="2443,-53 2467,0 2443,53"/>
<polygon class="h" points="2467,-53 2491,0 2467,53"/>
<polygon class="h" points="2491,-53 2514,0 2491,53"/>
<polygon class="h" points="2514,-53 2538,0 2514,53"/>
<polygon class="g" points="2550,-29 2566,-29 2566,-53 2609,0 2566,53 2566,29 2550,29"/>
<polygon class="h" points="2609,-53 2625,0 2609,53"/>
<polygon class="g" points="2625,-53 2664,0 2625,53"/>
<polygon class="g" points="2664,-53 2687,0 2664,53"/>
<polygon class="g" points="2714,-29 2740,-29 2740,-53 2782,0 2740,53 2740,29 2714,29"/>
<polygon class="g" points="2787,-29 2802,-29 2802,-53 2845,0 2802,53 2802,29 2787,29"/>
<polygon class="g" points="2853,-29 2880,-29 2880,-53 2924,0 2880,53 2880,29 2853,29"/>
<polygon class="h" points="2924,-53 2955,0 2924,53"/>
<polygon class="h" points="2955,-53 2979,0 2955,53"/>
<polygon class="h" points="2979,-53 3003,0 2979,53"/>
<polygon class="h" points="3003,-53 3026,0 3003,53"/>
<polygon class="h" points="3026,-53 3054,0 3026,53"/>
<polygon class="h" points="3054,-53 3081,0 3054,53"/>
<polygon class="h" points="3081,-53 3105,0 3081,53"/>
<polygon class="g" points="3123,-53 3139,0 3123,53"/>
<polygon class="h" points="3139,-53 3175,0 3139,53"/>
<polygon class="g" points="3180,-53 3218,0 3180,53"/>
<polygon class="h" points="3223,-53 3246,0 3223,53"/>
<polygon class="h" points="3246,-53 3277,0 3246,53"/>
<polygon class="h" points="3281,-53 3309,0 3281,53"/>
<polygon class="g" points="3317,-53 3364,0 3317,53"/>
<polygon class="h" points="3388,-53 3435,0 3388,53"/>
</g>

<!-- bottom zoom panel tracks -->
<g id="track-iii" transform="translate(0,2868)">
<rect class="bb" x="206" y="-6" width="1345" height="12"/>
<polygon class="tg" points="206,-21 597,-21 597,-38 612,0 597,38 597,21 206,21"/>
<polygon class="tg" points="612,-21 924,-21 924,-38 939,0 924,38 924,21 612,21"/>
</g>
<g id="track-iv" transform="translate(0,3244)">
<rect class="bb" x="206" y="-6" width="1345" height="12"/>
<polygon class="tg" points="206,-21 597,-21 597,-38 612,0 597,38 597,21 206,21"/>
<polygon class="tg" points="612,-21 924,-21 924,-38 939,0 924,38 924,21 612,21"/>
</g>

<!-- scale bars -->
<g id="scales">
<rect x="2497" y="86" width="55" height="309" fill="url(#sg)"/>
<text class="num" x="2570" y="130" font-size="50">100</text>
<text class="num" x="2570" y="386" font-size="50">84</text>
<line x1="2028" y1="449" x2="2432" y2="449" stroke="#999" stroke-width="3"/>
<line x1="2028" y1="431" x2="2028" y2="466" stroke="#999" stroke-width="3"/>
<line x1="2432" y1="431" x2="2432" y2="466" stroke="#999" stroke-width="3"/>
<text x="2217" y="438" font-size="46" text-anchor="middle">500 bp</text>

<rect x="3478" y="880" width="42" height="250" fill="url(#sg)"/>
<text class="num" x="3545" y="928">100</text>
<text class="num" x="3545" y="1125">84</text>

<rect x="3481" y="1508" width="40" height="269" fill="url(#sg)"/>
<text class="num" x="3545" y="1545">100</text>
<text class="num" x="3545" y="1771">90</text>

<rect x="3479" y="2141" width="43" height="262" fill="url(#sg)"/>
<text class="num" x="3545" y="2181">100</text>
<text class="num" x="3545" y="2396">94</text>

<rect x="1600" y="2930" width="36" height="228" fill="url(#sg)"/>
<text class="num" x="1660" y="2976">100</text>
<text class="num" x="1660" y="3142">81</text>
<line x1="1172" y1="3305" x2="1356" y2="3305" stroke="#999" stroke-width="3"/>
<line x1="1172" y1="3296" x2="1172" y2="3318" stroke="#999" stroke-width="3"/>
<line x1="1356" y1="3296" x2="1356" y2="3318" stroke="#999" stroke-width="3"/>
<text x="1265" y="3292" font-size="36" text-anchor="middle">100 bp</text>
</g>

<!-- highlights and zoom guides -->
<g id="highlights">
<ellipse class="circ" cx="1173" cy="808" rx="104" ry="66"/>
<ellipse class="circ" cx="2956" cy="1195" rx="59" ry="64"/>
<ellipse class="circ" cx="684" cy="2112" rx="36" ry="73"/>
<ellipse class="circ" cx="2408" cy="2463" rx="36" ry="75"/>
<line class="dash" x1="203" y1="98" x2="1062" y2="801"/>
<line class="dash" x1="2462" y1="96" x2="1284" y2="801"/>
<line class="dash" x1="2368" y1="2468" x2="208" y2="2838"/>
<line class="dash" x1="2440" y1="2470" x2="1556" y2="2860"/>
</g>

<!-- labels -->
<g id="labels">
<text class="rn" x="126" y="106">(i)</text>
<text class="rn" x="624" y="395">(ii)</text>
<text class="pn" x="137" y="736">(A)</text>
<text class="rn" x="1055" y="722">(i)</text>
<text class="lab" x="199" y="809">pp-134LM-</text>
<text class="lab" x="199" y="871">comK</text>
<text class="rl" x="253" y="1213">LP019</text>
<text class="rn" x="2959" y="1306">(ii)</text>
<text class="pn" x="168" y="1391">(B)</text>
<text class="lab" x="203" y="1489">pp-036LM-</text>
<text class="lab" x="203" y="1544">EF</text>
<text class="rl" x="234" y="1837">LP041</text>
<text class="pn" x="153" y="2017">(C)</text>
<text class="rn" x="613" y="2042">(iii)</text>
<text class="lab" x="224" y="2105">pp-036LM-</text>
<text class="lab" x="224" y="2161">tRNA-Lys</text>
<text class="rl" x="242" y="2471">P040</text>
<text class="rn" x="2473" y="2566">(iv)</text>
<text class="rn" x="145" y="2881">(iii)</text>
<text class="rn" x="139" y="3258">(iv)</text>
</g>

<!-- legend -->
<g id="legend">
<g id="leg-lysogeny">
<polygon fill="#ff0000" points="655,3377 625,3377 625,3351 595,3399 625,3447 625,3421 655,3421"/>
<text class="leg" x="672" y="3418">Lysogeny control</text>
</g>
<g id="leg-packaging">
<polygon fill="#ffff00" points="1206,3386 1252,3386 1252,3363 1296,3411 1252,3459 1252,3436 1206,3436"/>
<text class="leg" x="1323" y="3437">DNA-packaging</text>
</g>
<g id="leg-tail">
<polygon fill="#ff33cc" points="2024,3375 2067,3375 2067,3350 2110,3398 2067,3446 2067,3421 2024,3421"/>
<text class="leg" x="2119" y="3416">Tail and base plate structural</text>
<text class="leg" x="2150" y="3475">components and assembly</text>
</g>
<g id="leg-replication">
<polygon fill="#00ff00" points="583,3508 629,3508 629,3486 664,3534 629,3582 629,3558 583,3558"/>
<text class="leg" x="672" y="3551">DNA replication, recombination,</text>
<text class="leg" x="724" y="3611">modification and expression</text>
</g>
<g id="leg-head">
<polygon fill="#00ffff" points="1525,3496 1554,3496 1554,3470 1581,3520 1554,3570 1554,3543 1525,3543"/>
<text class="leg" x="1616" y="3545">Head structural</text>
<text class="leg" x="1490" y="3605">components and assembly</text>
</g>
<g id="leg-lysis">
<polygon fill="#0000ff" points="2227,3560 2265,3560 2265,3535 2308,3583 2265,3631 2265,3606 2227,3606"/>
<text class="leg" x="2322" y="3605">Cell lysis</text>
</g>
<g id="leg-hypo">
<polygon fill="#c0c0c0" points="2601,3545 2627,3545 2627,3520 2649,3570 2627,3620 2627,3593 2601,3593"/>
<text class="leg" x="2670" y="3586">Hypothetical protein</text>
</g>
</g>
</svg>
